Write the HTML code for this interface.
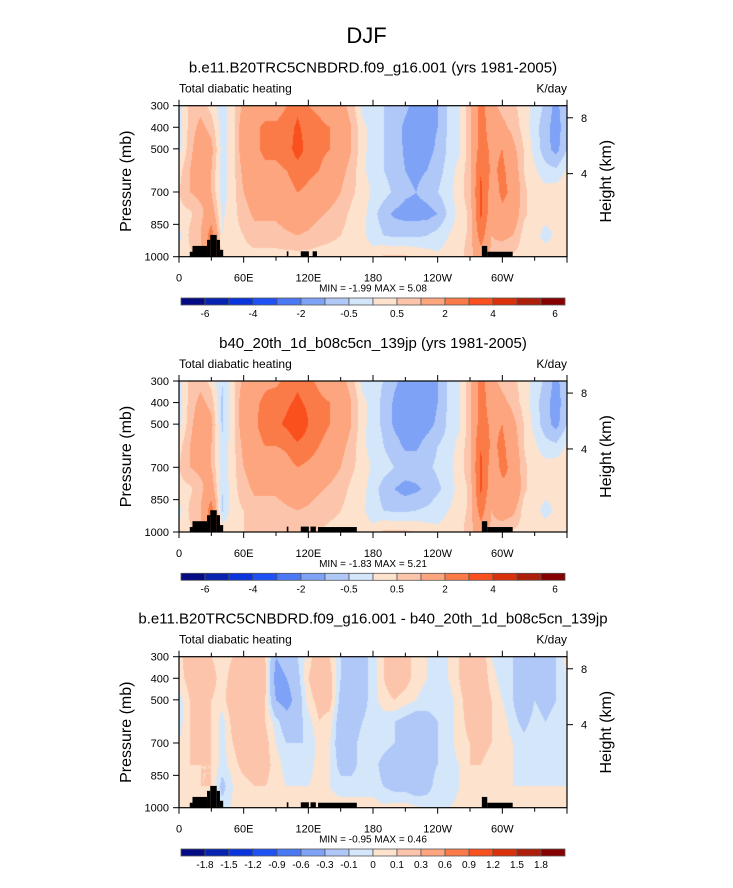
<!DOCTYPE html>
<html><head><meta charset="utf-8">
<style>
body{margin:0;background:#fff;}
#root{position:relative;width:733px;height:888px;overflow:hidden;background:#fff;font-family:"Liberation Sans",sans-serif;color:#000;}
.t{position:absolute;white-space:nowrap;}
canvas{position:absolute;}
svg{position:absolute;left:0;top:0;}
</style></head>
<body>
<div id="root">
<div class="t" style="left:0;width:733px;text-align:center;top:23px;font-size:22px;">DJF</div>
<svg id="ov" width="733" height="888"></svg>
</div>
<script>
// ---- data ----
const lons = [0,10,20,30,40,50,60,70,80,90,100,110,120,130,140,150,160,170,180,190,200,210,220,230,240,250,260,270,280,290,300,310,320,330,340,350,360];
const pres = [300,400,500,600,700,800,900,1000];
const field1 = [
[-0.2,0.6,0.8,0.3,-0.3,0.3,1.2,1.5,1.5,1.5,2.0,2.8,2.0,1.8,1.5,1.2,0.8,-0.2,-0.4,-0.5,-0.6,-0.9,-1.2,-1.2,-1.0,-0.4,-0.1,0.8,2.5,1.2,0.8,0.6,0.3,-0.2,-0.6,-1.2,-0.5],
[-0.3,0.7,1.2,0.8,-0.3,0.3,1.5,1.8,2.2,2.2,2.5,3.2,2.5,2.2,2.0,1.5,1.0,0.2,-0.3,-0.5,-0.8,-1.1,-1.2,-1.2,-1.0,-0.4,-0.1,0.8,2.5,1.5,1.2,0.8,0.3,-0.3,-0.8,-1.3,-0.6],
[-0.2,0.8,1.5,1.2,-0.2,0.3,1.5,1.8,2.2,2.2,2.5,3.5,2.6,2.2,2.0,1.5,1.0,0.2,-0.3,-0.5,-0.7,-1.1,-1.2,-1.2,-0.9,-0.4,-0.1,0.8,2.5,1.8,2.0,1.2,0.5,-0.2,-0.8,-1.2,-0.5],
[0.3,1.0,1.5,1.0,-0.3,0.3,1.2,1.6,1.8,1.8,2.0,2.5,2.2,2.0,1.6,1.2,0.8,0.1,-0.2,-0.5,-0.7,-1.0,-1.1,-1.0,-0.7,-0.3,0.2,0.8,3.0,1.8,2.2,1.5,0.5,0.1,-0.3,-0.4,0.1],
[0.5,1.0,1.2,1.0,-0.3,0.3,1.0,1.3,1.3,1.3,1.6,2.0,1.8,1.6,1.3,1.0,0.6,0.3,-0.1,-0.3,-0.6,-0.9,-1.0,-0.8,-0.5,-0.2,0.3,0.8,3.2,1.5,2.2,1.8,0.6,0.3,0.2,0.3,0.4],
[0.3,0.4,0.8,1.5,-0.1,0.3,0.8,1.1,1.1,1.1,1.3,1.6,1.3,1.1,0.9,0.7,0.4,0.2,-0.3,-0.8,-1.1,-1.2,-1.2,-1.2,-1.0,-0.4,0.2,0.6,3.2,1.3,1.8,1.5,0.6,0.3,0.2,0.2,0.3],
[-0.2,0.6,1.0,2.5,0.0,0.3,0.5,0.8,0.8,0.8,0.9,1.0,0.9,0.7,0.6,0.5,0.3,0.1,-0.2,-0.5,-0.6,-0.6,-0.6,-0.5,-0.3,0.0,0.3,0.6,2.5,1.0,1.2,1.0,0.3,0.2,-0.2,0.1,0.2],
[0.2,0.4,0.8,2.0,0.4,0.2,0.3,0.3,0.3,0.3,0.3,0.3,0.3,0.3,0.3,0.3,0.3,0.3,0.2,0.6,0.6,0.6,0.5,0.3,0.1,0.2,0.3,0.8,1.5,0.8,0.5,0.4,0.3,0.3,0.3,0.3,0.3]
];
const field2 = [
[-0.2,0.6,0.8,0.3,-0.5,0.3,1.2,1.5,1.8,1.8,2.2,2.8,2.2,1.8,1.5,1.2,0.8,-0.2,-0.4,-0.5,-0.9,-1.2,-1.3,-1.3,-1.0,-0.4,-0.1,0.8,2.5,1.2,0.8,0.6,0.3,-0.2,-0.6,-1.2,-0.5],
[-0.3,0.7,1.2,0.8,-0.6,0.3,1.5,1.8,2.2,2.5,2.8,3.2,2.8,2.2,2.0,1.5,1.0,0.2,-0.3,-0.6,-1.1,-1.3,-1.3,-1.3,-1.0,-0.4,-0.1,0.8,2.5,1.5,1.2,0.8,0.3,-0.3,-0.8,-1.3,-0.6],
[-0.2,0.8,1.5,1.2,-0.6,0.3,1.5,1.8,2.5,2.8,3.2,4.0,3.0,2.4,2.0,1.5,1.0,0.2,-0.3,-0.6,-1.1,-1.3,-1.3,-1.2,-0.9,-0.4,-0.1,0.8,2.5,1.8,2.0,1.2,0.5,-0.2,-0.8,-1.2,-0.5],
[0.3,1.0,1.5,1.0,-0.4,0.3,1.2,1.6,2.0,2.0,2.2,2.8,2.4,2.0,1.6,1.2,0.8,0.1,-0.2,-0.5,-0.8,-1.1,-1.1,-0.8,-0.5,-0.3,0.2,0.8,3.0,1.8,2.2,1.5,0.5,0.1,-0.3,-0.4,0.1],
[0.5,1.0,1.2,1.0,-0.3,0.3,1.0,1.3,1.3,1.3,1.6,2.0,1.8,1.6,1.3,1.0,0.6,0.3,-0.1,-0.3,-0.5,-0.7,-0.7,-0.6,-0.4,-0.2,0.3,0.8,3.2,1.5,2.2,1.8,0.6,0.3,0.2,0.3,0.4],
[0.3,0.4,0.8,1.5,-0.5,0.3,0.8,1.1,1.1,1.1,1.3,1.6,1.3,1.1,0.9,0.7,0.4,0.2,-0.3,-0.7,-1.0,-1.2,-1.1,-0.9,-0.6,-0.3,0.2,0.6,3.2,1.3,1.8,2.0,0.6,0.3,0.2,0.2,0.3],
[-0.2,0.6,1.0,2.5,-0.6,0.3,0.5,0.8,0.8,0.8,0.9,1.0,0.9,0.7,0.6,0.5,0.3,0.1,-0.3,-0.5,-0.6,-0.6,-0.5,-0.4,-0.2,0.0,0.3,0.6,2.5,1.0,1.5,1.2,0.3,0.2,-0.2,0.1,0.2],
[0.2,0.4,0.8,2.0,0.4,0.3,0.5,0.5,0.5,0.5,0.5,0.5,0.5,0.5,0.4,0.4,0.3,0.3,0.2,0.6,0.6,0.6,0.5,0.3,0.1,0.2,0.3,0.8,1.5,0.8,0.5,0.4,0.3,0.3,0.3,0.3,0.3]
];
const field3 = [
[0.05,0.2,0.15,0.1,0.05,0.1,0.2,0.2,0.1,-0.3,-0.2,-0.1,0.05,0.2,0.1,-0.1,-0.2,-0.15,-0.05,0.1,0.2,0.15,0.05,0.0,-0.05,0.0,0.1,0.25,0.2,0.0,-0.1,-0.1,-0.15,-0.1,-0.2,-0.1,0.05],
[0.05,0.15,0.2,0.15,0.05,0.15,0.25,0.3,0.15,-0.4,-0.3,-0.15,0.1,0.2,0.15,-0.1,-0.2,-0.15,-0.05,0.1,0.2,0.15,0.05,0.0,-0.05,0.0,0.1,0.25,0.2,0.05,-0.05,-0.1,-0.2,-0.15,-0.2,-0.1,0.0],
[-0.05,0.1,0.15,0.1,0.05,0.2,0.3,0.3,0.1,-0.3,-0.4,-0.2,0.05,0.15,0.15,-0.15,-0.25,-0.15,-0.05,0.05,0.1,0.05,0.0,-0.05,-0.05,-0.05,0.05,0.2,0.2,0.1,0.0,-0.1,-0.25,-0.1,-0.15,-0.1,-0.05],
[-0.05,0.1,0.15,0.1,-0.05,0.15,0.25,0.25,0.1,-0.05,-0.2,-0.15,-0.05,0.1,0.05,-0.2,-0.2,-0.1,-0.05,-0.05,-0.1,-0.15,-0.2,-0.15,-0.1,-0.05,0.05,0.15,0.15,0.1,0.05,-0.05,-0.15,-0.05,-0.1,-0.05,-0.05],
[0.0,0.1,0.15,0.1,-0.05,0.1,0.2,0.25,0.15,0.0,-0.1,-0.1,-0.1,0.05,0.0,-0.2,-0.15,-0.05,-0.05,-0.05,-0.1,-0.15,-0.2,-0.2,-0.1,-0.05,0.05,0.1,0.15,0.1,0.05,0.0,-0.05,0.0,-0.05,-0.05,-0.05],
[0.05,0.1,0.1,0.1,-0.05,0.05,0.15,0.2,0.15,0.05,-0.05,-0.05,-0.05,0.05,0.0,-0.15,-0.15,-0.05,-0.05,-0.15,-0.2,-0.2,-0.2,-0.15,-0.1,-0.05,0.0,0.1,0.1,0.05,0.05,0.0,-0.05,0.0,-0.05,-0.05,0.0],
[0.05,0.05,0.1,0.1,-0.15,0.0,0.05,0.1,0.1,0.05,0.0,0.0,0.0,0.05,0.0,-0.05,-0.05,-0.05,-0.05,-0.1,-0.15,-0.15,-0.2,-0.15,-0.05,-0.05,0.0,0.05,0.05,0.05,0.05,0.0,0.0,0.0,0.0,0.0,0.0],
[0.02,0.02,0.05,0.05,-0.05,0.02,0.02,0.05,0.05,0.05,0.05,0.05,0.05,0.05,0.05,0.05,0.05,0.05,0.05,0.02,0.05,0.05,0.02,-0.02,-0.02,0.0,0.02,0.02,0.02,0.02,0.02,0.02,0.02,0.02,0.02,0.02,0.02]
];
const levels1 = [-6,-5,-4,-3,-2,-1,-0.5,0,0.5,1,2,3,4,5,6];
const levels3 = [-1.8,-1.5,-1.2,-0.9,-0.6,-0.3,-0.1,0,0.1,0.3,0.6,0.9,1.2,1.5,1.8];
const labels1 = ["-6","-4","-2","-0.5","0.5","2","4","6"];
const labelIdx1 = [0,2,4,6,8,10,12,14];
const labels3 = ["-1.8","-1.5","-1.2","-0.9","-0.6","-0.3","-0.1","0","0.1","0.3","0.6","0.9","1.2","1.5","1.8"];
const palette = ['#050a85','#0624b0','#0a35dd','#1f52f5','#4b78f4','#7ea2f6','#b0c8f8','#d4e6fa','#fde3cd','#fcc5ab','#fca57f','#fb7b48','#f9501e','#db310a','#ad1f0a','#860000'];
// topography blocks: [lonStart, lonEnd, topPressure]
const topo1 = [[10,12.5,977],[12.5,26,950],[26,29,922],[29,35,899],[35,38,922],[38,41,968],[100,101.5,975],[113,120.5,975],[124,128,975],[281,286,950],[286,309.6,977]];
const topo2 = [[10,12.5,977],[12.5,26,950],[26,29,922],[29,35,899],[35,38,922],[38,41,968],[100,101.5,975],[113,120.5,975],[122,127,975],[129,165,977],[281,286,950],[286,309.6,977]];
const titles = ["b.e11.B20TRC5CNBDRD.f09_g16.001 (yrs 1981-2005)","b40_20th_1d_b08c5cn_139jp (yrs 1981-2005)","b.e11.B20TRC5CNBDRD.f09_g16.001 - b40_20th_1d_b08c5cn_139jp"];
const minmax = ["MIN = -1.99  MAX =  5.08","MIN = -1.83  MAX =  5.21","MIN = -0.95  MAX =  0.46"];

// ---- layout ----
const PL=179, PW=388, PH=151;
const tops=[105.7,381,656.7];
const root=document.getElementById('root');
const ov=document.getElementById('ov');
const NS='http://www.w3.org/2000/svg';
function xs(lon){return PL+lon/360*PW;}
function ys(top,p){return top+(p-300)/700*PH;}
function hexToRgb(h){return [parseInt(h.slice(1,3),16),parseInt(h.slice(3,5),16),parseInt(h.slice(5,7),16)];}
const rgbPal=palette.map(hexToRgb);
function colorIdx(v,lev){let i=0;while(i<lev.length&&v>=lev[i])i++;return i;}
function sample(f,lon,p){
  let i=Math.min(lons.length-2,Math.floor(lon/10)); let tx=(lon-lons[i])/10;
  let j=0; while(j<pres.length-2&&p>pres[j+1])j++; let ty=(p-pres[j])/(pres[j+1]-pres[j]);
  ty=Math.max(0,Math.min(1,ty));
  const a=f[j][i],b=f[j][i+1],c=f[j+1][i],d=f[j+1][i+1];
  return a*(1-tx)*(1-ty)+b*tx*(1-ty)+c*(1-tx)*ty+d*tx*ty;
}
function mk(tag,attrs,parent){const e=document.createElementNS(NS,tag);for(const k in attrs)e.setAttribute(k,attrs[k]);(parent||ov).appendChild(e);return e;}
function txt(s,x,y,size,anchor,name,rot){
  const t=mk('text',{x:x,y:y,'font-size':size,'text-anchor':anchor||'middle','font-family':'Liberation Sans, sans-serif'});
  if(rot)t.setAttribute('transform','rotate(-90 '+x+' '+y+')');
  
  
  t.textContent=s;return t;
}

function panel(k,field,lev,topo){
  const top=tops[k];
  const cv=document.createElement('canvas');
  cv.width=PW;cv.height=Math.round(PH);
  cv.style.left=PL+'px';cv.style.top=top+'px';
  
  
  root.insertBefore(cv,ov);
  const ctx=cv.getContext('2d');const img=ctx.createImageData(cv.width,cv.height);
  for(let y=0;y<cv.height;y++){const p=300+(y+0.5)/PH*700;
    for(let x=0;x<cv.width;x++){const lon=(x+0.5)/PW*360;
      const c=rgbPal[colorIdx(sample(field,lon,p),lev)];const o=(y*cv.width+x)*4;
      img.data[o]=c[0];img.data[o+1]=c[1];img.data[o+2]=c[2];img.data[o+3]=255;}}
  ctx.putImageData(img,0,0);
  const g=mk('g',{});
  
  
  topo.forEach(b=>{const r=mk('rect',{x:xs(b[0]),y:ys(top,b[2]),width:xs(b[1])-xs(b[0]),height:ys(top,1000)-ys(top,b[2]),fill:'#000'},g);
    
    });
  mk('rect',{x:PL,y:top,width:PW,height:PH,fill:'none',stroke:'#000','stroke-width':1.2},g);
  for(let lon=0;lon<=360;lon+=30){const major=lon%60==0;const L=major?6:4;
    mk('line',{x1:xs(lon),x2:xs(lon),y1:top+PH,y2:top+PH+L,stroke:'#000'},g);
    mk('line',{x1:xs(lon),x2:xs(lon),y1:top,y2:top-L,stroke:'#000'},g);}
  const xl=["0","60E","120E","180","120W","60W"];
  xl.forEach((s,i)=>txt(s,xs(i*60),top+PH+25,11,'middle','x-tick-label'));
  [300,400,500,700,850,1000].forEach(p=>{mk('line',{x1:PL-6,x2:PL,y1:ys(top,p),y2:ys(top,p),stroke:'#000'},g);
    txt(String(p),PL-10,ys(top,p)+4,11,'end','y-tick-label');});
  [[8,356],[4,615]].forEach(h=>{mk('line',{x1:PL+PW,x2:PL+PW+6,y1:ys(top,h[1]),y2:ys(top,h[1]),stroke:'#000'},g);
    txt(String(h[0]),PL+PW+14,ys(top,h[1])+4,11,'start','height-tick-label');});
  txt('Pressure (mb)',131,top+PH/2,16,'middle','y-axis-title',true);
  txt('Height (km)',611,top+PH/2,16,'middle','right-axis-title',true);
  txt(titles[k],373,top-33,15,'middle','panel-title');
  txt('Total diabatic heating',PL,top-13,12,'start','variable-label');
  txt('K/day',PL+PW,top-13,12,'end','units-label');
  txt(minmax[k],373,top+PH+35,10,'middle','min-max-label');
  const cy=top+192.3, cx=181, bw=24;
  for(let i=0;i<16;i++){const r=mk('rect',{x:cx+i*bw,y:cy,width:bw,height:7,fill:palette[i],stroke:'#555','stroke-width':0.8},g);
    
    }
  if(k<2){labels1.forEach((s,i)=>{let x=cx+(labelIdx1[i]+1)*bw; if(i==7)x=555; txt(s,x,cy+19,10,'middle','colorbar-label');});}
  else{labels3.forEach((s,i)=>txt(s,cx+(i+1)*bw,cy+19,10,'middle','colorbar-label'));}
}
panel(0,field1,levels1,topo1);
panel(1,field2,levels1,topo2);
panel(2,field3,levels3,topo2);
</script>
</body></html>
